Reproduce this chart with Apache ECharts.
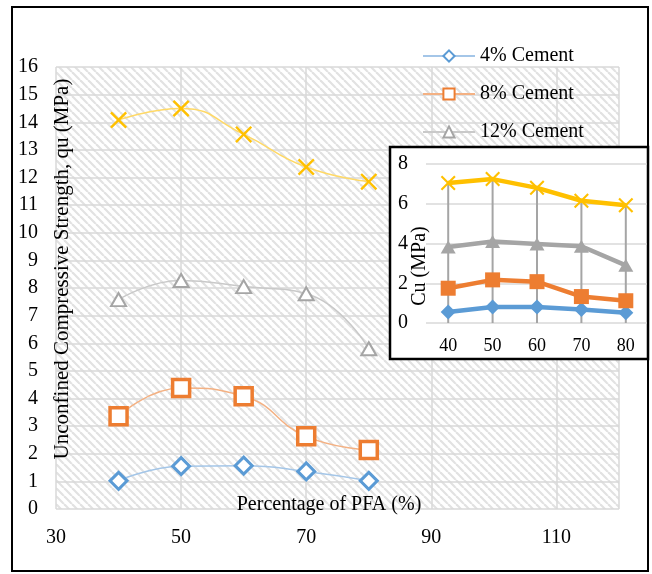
<!DOCTYPE html>
<html>
<head>
<meta charset="utf-8">
<script src="https://cdn.jsdelivr.net/npm/echarts@6/dist/echarts.min.js"></script>
<style>
html,body{margin:0;padding:0;background:#fff;}
#chart{width:652px;height:574px;}
</style>
</head>
<body>
<div id="chart"></div>
<script>
// ---- data ----
const pfa = [40, 50, 60, 70, 80];
const seriesNames = ['4% Cement', '8% Cement', '12% Cement', '16% Cement'];
const qu4 = [1.02, 1.55, 1.57, 1.36, 1.02];
const qu8 = [3.36, 4.38, 4.08, 2.63, 2.14];
const qu12 = [7.58, 8.27, 8.05, 7.79, 5.80];
const qu16 = [14.08, 14.50, 13.56, 12.38, 11.85];
const insetCategories = ['40', '50', '60', '70', '80'];
const cu4 = [0.55, 0.80, 0.80, 0.68, 0.52];
const cu8 = [1.75, 2.17, 2.08, 1.33, 1.12];
const cu12 = [3.82, 4.10, 3.98, 3.86, 2.90];
const cu16 = [7.04, 7.24, 6.80, 6.15, 5.93];
const mainYName = 'Unconfined Compressive Strength, qu (MPa)';
const mainXName = 'Percentage of PFA (%)';
const insetYName = 'Cu (MPa)';

// ---- hatch pattern ----
function makeHatch() {
  const s = 8;
  const c = document.createElement('canvas');
  c.width = s; c.height = s;
  const ctx = c.getContext('2d');
  ctx.fillStyle = '#ffffff';
  ctx.fillRect(0, 0, s, s);
  ctx.strokeStyle = '#e2e2e2';
  ctx.lineWidth = 2.2;
  for (const o of [-s, 0, s]) {
    ctx.beginPath();
    ctx.moveTo(o, 0);
    ctx.lineTo(o + s, s);
    ctx.stroke();
  }
  return c;
}

const FONT = 'Liberation Serif';
const pairs = arr => pfa.map((x, i) => [x, arr[i]]);
const XSYM = 'path://M0,2L2,0L10,8L18,0L20,2L12,10L20,18L18,20L10,12L2,20L0,18L8,10Z';

const chart = echarts.init(document.getElementById('chart'), null, {renderer: 'canvas'});
const option = {
  animation: false,
  backgroundColor: '#ffffff',
  legend: {
    data: ['4% Cement', '8% Cement', '12% Cement'],
    orient: 'vertical',
    left: 417,
    top: 41,
    itemGap: 18,
    itemWidth: 52,
    itemHeight: 14,
    textStyle: {fontFamily: FONT, fontSize: 20, color: '#000'}
  },
  grid: [
    {left: 56, right: 33, top: 67, bottom: 65, show: true, borderWidth: 0,
     backgroundColor: {image: makeHatch(), repeat: 'repeat'}},
    {left: 426, right: 4, top: 164, bottom: 251, show: false}
  ],
  xAxis: [
    {type: 'value', gridIndex: 0, min: 30, max: 120, interval: 20,
     axisLine: {show: false}, axisTick: {show: false},
     axisLabel: {showMaxLabel: false, margin: 19, fontFamily: FONT, fontSize: 20, color: '#000'},
     splitLine: {show: true, lineStyle: {color: '#d9d9d9', width: 1.5}}},
    {type: 'category', gridIndex: 1, data: insetCategories, boundaryGap: true, zlevel: 1, z: 1,
     axisLine: {show: false}, axisTick: {show: false},
     axisLabel: {margin: 14, fontFamily: FONT, fontSize: 18, color: '#000'},
     splitLine: {show: false}}
  ],
  yAxis: [
    {type: 'value', gridIndex: 0, min: 0, max: 16, interval: 1,
     axisLine: {show: false}, axisTick: {show: false},
     axisLabel: {margin: 18, fontFamily: FONT, fontSize: 20, color: '#000'},
     splitLine: {show: true, lineStyle: {color: '#d9d9d9', width: 1.5}}},
    {type: 'value', gridIndex: 1, min: 0, max: 8, interval: 2, zlevel: 1, z: 1,
     axisLine: {show: false}, axisTick: {show: false},
     axisLabel: {margin: 18, fontFamily: FONT, fontSize: 20, color: '#000'},
     splitLine: {show: true, lineStyle: {color: '#d9d9d9', width: 1.5}}}
  ],
  series: [
    {name: seriesNames[0], type: 'line', xAxisIndex: 0, yAxisIndex: 0, data: pairs(qu4), smooth: 0.5,
     symbol: 'diamond', symbolSize: 17,
     lineStyle: {color: '#a4c6e8', width: 1.5},
     itemStyle: {color: '#ffffff', borderColor: '#5b9bd5', borderWidth: 3}},
    {name: seriesNames[1], type: 'line', xAxisIndex: 0, yAxisIndex: 0, data: pairs(qu8), smooth: 0.5,
     symbol: 'rect', symbolSize: 17,
     lineStyle: {color: '#f4b183', width: 1.5},
     itemStyle: {color: '#ffffff', borderColor: '#ed7d31', borderWidth: 3.5}},
    {name: seriesNames[2], type: 'line', xAxisIndex: 0, yAxisIndex: 0, data: pairs(qu12), smooth: 0.5,
     symbol: 'triangle', symbolSize: [15, 13],
     lineStyle: {color: '#c9c9c9', width: 1.5},
     itemStyle: {color: '#ffffff', borderColor: '#a5a5a5', borderWidth: 2}},
    {name: seriesNames[3], type: 'line', xAxisIndex: 0, yAxisIndex: 0, data: pairs(qu16), smooth: 0.5,
     symbol: XSYM, symbolSize: 17,
     lineStyle: {color: '#ffd966', width: 1.5},
     itemStyle: {color: '#ffc000'}},
    // inset
    {name: 'inset drop', type: 'bar', xAxisIndex: 1, yAxisIndex: 1, data: cu16, barWidth: 2,
     zlevel: 1, z: 2, itemStyle: {color: '#a5a5a5'}},
    {name: 'inset 4', type: 'line', xAxisIndex: 1, yAxisIndex: 1, data: cu4, zlevel: 1, z: 3,
     symbol: 'diamond', symbolSize: 15, lineStyle: {color: '#5b9bd5', width: 4.5},
     itemStyle: {color: '#5b9bd5'}},
    {name: 'inset 8', type: 'line', xAxisIndex: 1, yAxisIndex: 1, data: cu8, zlevel: 1, z: 3,
     symbol: 'rect', symbolSize: 15, lineStyle: {color: '#ed7d31', width: 4.5},
     itemStyle: {color: '#ed7d31'}},
    {name: 'inset 12', type: 'line', xAxisIndex: 1, yAxisIndex: 1, data: cu12, zlevel: 1, z: 3,
     symbol: 'triangle', symbolSize: [15, 13], lineStyle: {color: '#a5a5a5', width: 4.5},
     itemStyle: {color: '#a5a5a5'}},
    {name: 'inset 16', type: 'line', xAxisIndex: 1, yAxisIndex: 1, data: cu16, zlevel: 1, z: 3,
     symbol: XSYM, symbolSize: 15, lineStyle: {color: '#ffc000', width: 4.5},
     itemStyle: {color: '#ffc000'}}
  ],
  graphic: [
    {type: 'rect', zlevel: 1, z: 0, shape: {x: 390, y: 147, width: 258, height: 212},
     style: {fill: '#ffffff', stroke: '#000', lineWidth: 2.5}},
    {type: 'rect', zlevel: 1, z: 10, shape: {x: 12, y: 7, width: 636, height: 564},
     style: {fill: null, stroke: '#000', lineWidth: 2}},
    {type: 'text', x: 62, y: 269, rotation: Math.PI / 2, z: 10,
     style: {text: mainYName, font: '21px "Liberation Serif"', fill: '#000', align: 'center', verticalAlign: 'middle', textAlign: 'center', textVerticalAlign: 'middle'}},
    {type: 'text', x: 329, y: 505, z: 10,
     style: {text: mainXName, font: '20px "Liberation Serif"', fill: '#000', align: 'center', verticalAlign: 'middle', textAlign: 'center', textVerticalAlign: 'middle'}},
    {type: 'text', x: 420, y: 266, rotation: Math.PI / 2, zlevel: 1, z: 10,
     style: {text: insetYName, font: '20px "Liberation Serif"', fill: '#000', align: 'center', verticalAlign: 'middle', textAlign: 'center', textVerticalAlign: 'middle'}}
  ]
};
chart.setOption(option);
</script>
</body>
</html>
